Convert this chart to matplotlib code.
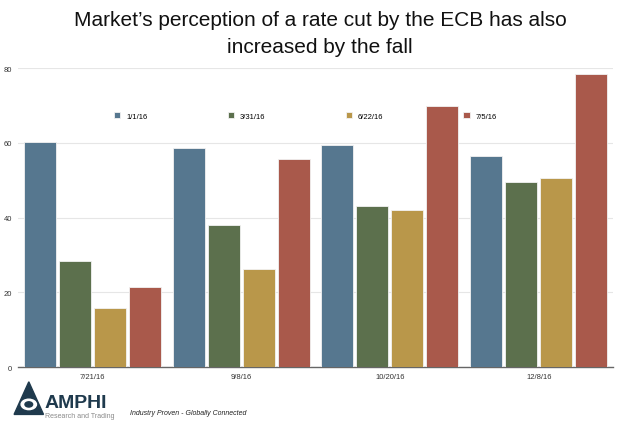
import matplotlib
matplotlib.use("Agg")
import matplotlib.pyplot as plt
import numpy as np
from matplotlib.patches import Polygon, Circle

plt.rcParams['font.family'] = ['Liberation Sans', 'DejaVu Sans']

# data
dates = ['7/21/16', '9/8/16', '10/20/16', '12/8/16']
series = ['1/1/16', '3/31/16', '6/22/16', '7/5/16']
v_0101 = [60.2, 58.5, 59.4, 56.5]
v_0331 = [28.4, 38.0, 43.1, 49.4]
v_0622 = [15.8, 26.2, 41.9, 50.6]
v_0705 = [21.4, 55.7, 69.8, 78.4]
values = [v_0101, v_0331, v_0622, v_0705]
colores = ['#56778f', '#5c704d', '#b9974a', '#a9594b']

fig = plt.figure(figsize=(6.4, 4.35), dpi=100)
ax = fig.add_axes([0.028, 0.154, 0.930, 0.687])

x = np.arange(len(dates))
ancho = 0.215
paso = 0.235
for i, (nombre, vals, c) in enumerate(zip(series, values, colores)):
    ax.bar(x + (i - 1.5) * paso, vals, width=ancho, color=c, label=nombre,
           edgecolor='#f2f2f2', linewidth=0.6, zorder=3)

ax.set_xlim(-0.5, 3.5)
ax.set_ylim(0, 80)
ax.set_yticks([0, 20, 40, 60, 80])
ax.set_xticks(x)
ax.set_xticklabels(dates)
ax.tick_params(axis='both', length=0, labelsize=5.5, colors='#333333')
ax.tick_params(axis='x', pad=4)
ax.tick_params(axis='y', pad=4)
ax.grid(axis='y', color='#e6e6e6', linewidth=0.8, zorder=0)
for s in ['top', 'right', 'left']:
    ax.spines[s].set_visible(False)
ax.spines['bottom'].set_color('#666666')
ax.spines['bottom'].set_linewidth(1.0)

ax.legend(loc='upper center', bbox_to_anchor=(0.483, 0.875), ncol=4, frameon=False,
          fontsize=5.5, handlelength=0.8, handleheight=0.8, columnspacing=10.5,
          handletextpad=0.8)

fig.text(0.5, 0.953, "Market\u2019s perception of a rate cut by the ECB has also",
         ha='center', va='center', fontsize=15, color='#111111')
fig.text(0.5, 0.89, "increased by the fall", ha='center', va='center',
         fontsize=15, color='#111111')

# logo
navy = '#1f3a4d'
tri = Polygon([[0.045, 0.12], [0.022, 0.045], [0.068, 0.045]], closed=True,
              transform=fig.transFigure, color=navy)
fig.patches.append(tri)
fig.patches.append(Circle((0.045, 0.068), 0.012, transform=fig.transFigure,
                          color='white'))
fig.patches.append(Circle((0.045, 0.068), 0.006, transform=fig.transFigure,
                          color=navy))
fig.text(0.07, 0.073, "AMPHI", fontsize=14, fontweight='bold', color=navy,
         ha='left', va='center')
fig.text(0.071, 0.042, "Research and Trading", fontsize=5, color='#8a8a8a',
         ha='left', va='center')
fig.text(0.203, 0.05, "Industry Proven - Globally Connected", fontsize=5,
         style='italic', color='#222222', ha='left', va='center')

fig.savefig('out.png', dpi=100)
